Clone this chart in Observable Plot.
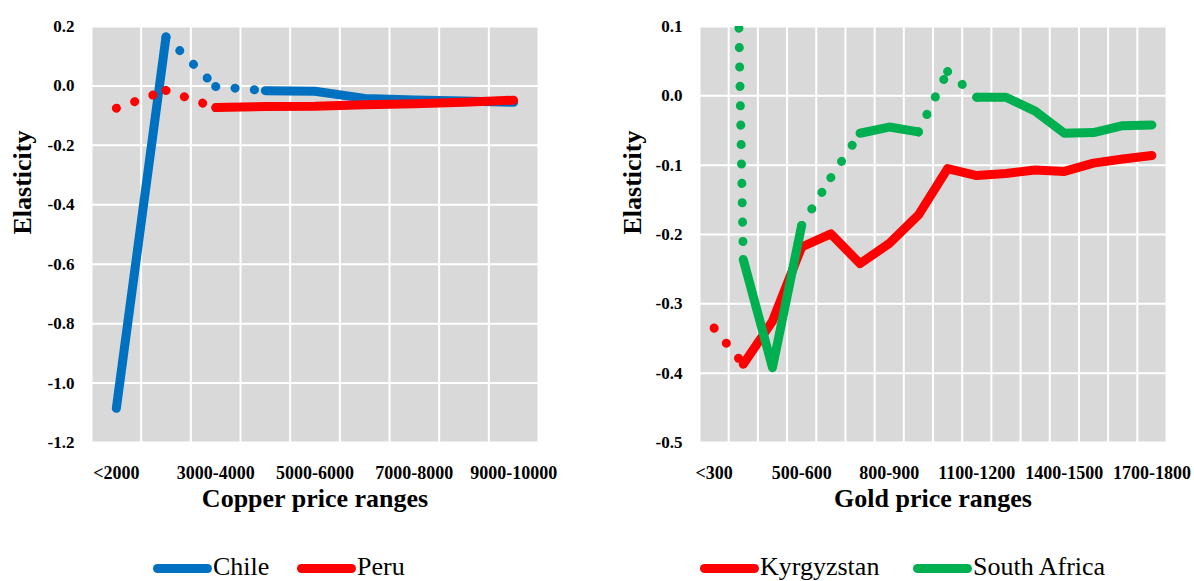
<!DOCTYPE html>
<html>
<head>
<meta charset="utf-8">
<script src="https://cdn.jsdelivr.net/npm/d3@7"></script>
<script src="https://cdn.jsdelivr.net/npm/@observablehq/plot@0.6"></script>
<style>
  body { margin: 0; background: #fff; }
  #wrap { position: relative; width: 1194px; height: 581px; overflow: hidden; background: #fff;
          font-family: "Liberation Serif", "Times New Roman", serif; }
  .chart { position: absolute; top: 0; }
  .swatch { position: absolute; top: 564px; height: 9px; width: 59px; border-radius: 4.5px; }
  .legtext { position: absolute; top: 554px; line-height: 26px; font-size: 26px; color: #000;
             font-family: "Liberation Serif", "Times New Roman", serif; white-space: nowrap; }
</style>
</head>
<body>
<div id="wrap"></div>
<script>
// ---------- Data: copper panel ----------
const copperCategories = ["<2000", "2000-3000", "3000-4000", "4000-5000", "5000-6000",
                          "6000-7000", "7000-8000", "8000-9000", "9000-10000"];
const copperTickLabels = ["<2000", "3000-4000", "5000-6000", "7000-8000", "9000-10000"];
const copperYTicks = [0.2, 0.0, -0.2, -0.4, -0.6, -0.8, -1.0, -1.2];
const chileValues = [-1.085, 0.165, -0.002, -0.016, -0.018, -0.042, -0.047, -0.051, -0.055];
const chileSegments = ["solid", "dotted", "dotted", "solid", "solid", "solid", "solid", "solid"];
const peruValues = [-0.075, -0.015, -0.073, -0.069, -0.068, -0.063, -0.060, -0.055, -0.048];
const peruSegments = ["dotted", "dotted", "solid", "solid", "solid", "solid", "solid", "solid"];

// ---------- Data: gold panel ----------
const goldCategories = ["<300", "300-400", "400-500", "500-600", "600-700", "700-800", "800-900",
                        "900-1000", "1000-1100", "1100-1200", "1200-1300", "1300-1400",
                        "1400-1500", "1500-1600", "1600-1700", "1700-1800"];
const goldTickLabels = ["<300", "500-600", "800-900", "1100-1200", "1400-1500", "1700-1800"];
const goldYTicks = [0.1, 0.0, -0.1, -0.2, -0.3, -0.4, -0.5];
const kyrgyzValues = [-0.335, -0.387, -0.325, -0.218, -0.199, -0.242, -0.213, -0.172,
                      -0.105, -0.115, -0.112, -0.107, -0.109, -0.097, -0.091, -0.086];
const kyrgyzSegments = ["dotted", "solid", "solid", "solid", "solid", "solid", "solid", "solid",
                        "solid", "solid", "solid", "solid", "solid", "solid", "solid"];
const southAfricaValues = [2.0, -0.236, -0.392, -0.187, -0.118, -0.054, -0.045, -0.052,
                           0.035, -0.002, -0.002, -0.022, -0.054, -0.053, -0.043, -0.042];
const southAfricaSegments = ["dotted", "solid", "solid", "dotted", "dotted", "solid", "solid", "dotted",
                             "dotted", "solid", "solid", "solid", "solid", "solid", "solid"];

// ---------- Styling ----------
const BLUE = "#0070C0", RED = "#FF0000", GREEN = "#00B050", PANEL = "#D9D9D9";
const LW = 9;
const DOTS = "0.1,19.3";

function buildSegments(values, styles) {
  const solid = [], dotted = [];
  let run = -1, prevSolid = false;
  styles.forEach((s, i) => {
    if (s === "solid") {
      if (!prevSolid) { run++; solid.push({x: i + 0.5, y: values[i], z: run}); }
      solid.push({x: i + 1.5, y: values[i + 1], z: run});
      prevSolid = true;
    } else {
      dotted.push({x: i + 0.5, y: values[i], z: i}, {x: i + 1.5, y: values[i + 1], z: i});
      prevSolid = false;
    }
  });
  return {solid, dotted};
}

function seriesMarks(values, styles, color) {
  const {solid, dotted} = buildSegments(values, styles);
  return [
    Plot.line(solid, {x: "x", y: "y", z: "z", stroke: color, strokeWidth: LW,
      strokeLinecap: "round", strokeLinejoin: "round", clip: true}),
    Plot.line(dotted, {x: "x", y: "y", z: "z", stroke: color, strokeWidth: LW,
      strokeLinecap: "round", strokeDasharray: DOTS, clip: true})
  ];
}

function panel({categories, tickLabels, yTicks, yDomain, series, xTitle,
                width, marginLeft, marginRight, yTitleDx}) {
  const n = categories.length;
  const tickPos = tickLabels.map(l => categories.indexOf(l) + 0.5);
  return Plot.plot({
    width, height: 535,
    marginLeft, marginRight, marginTop: 26, marginBottom: 93,
    style: {fontFamily: "'Liberation Serif', 'Times New Roman', serif", fontWeight: "bold",
            fontSize: "17px", color: "#000", background: "transparent", overflow: "visible"},
    x: {type: "linear", domain: [0, n]},
    y: {domain: yDomain},
    marks: [
      Plot.frame({fill: PANEL, stroke: null}),
      Plot.gridX(d3.range(0, n + 1), {stroke: "#fff", strokeOpacity: 1, strokeWidth: 2}),
      Plot.gridY(yTicks, {stroke: "#fff", strokeOpacity: 1, strokeWidth: 2}),
      Plot.axisY({ticks: yTicks, tickSize: 0, tickPadding: 17, label: null,
        tickFormat: d => d.toFixed(1), fontSize: 17}),
      Plot.axisX({ticks: tickPos, tickSize: 0, tickPadding: 24, label: null,
        tickFormat: v => categories[Math.round(v - 0.5)], fontSize: 18}),
      ...series.flatMap(s => seriesMarks(s.values, s.styles, s.color)),
      Plot.text([xTitle], {text: d => d, frameAnchor: "bottom", dy: 56, fontSize: 26,
        fontWeight: "bold", lineAnchor: "middle"}),
      Plot.text(["Elasticity"], {text: d => d, frameAnchor: "left", dx: yTitleDx, rotate: -90,
        fontSize: 26, fontWeight: "bold", lineAnchor: "middle"})
    ]
  });
}

const wrap = document.getElementById("wrap");

const left = panel({
  categories: copperCategories, tickLabels: copperTickLabels, yTicks: copperYTicks,
  yDomain: [-1.2, 0.2], xTitle: "Copper price ranges",
  width: 597, marginLeft: 91, marginRight: 59, yTitleDx: -69,
  series: [
    {values: chileValues, styles: chileSegments, color: BLUE},
    {values: peruValues, styles: peruSegments, color: RED}
  ]
});
left.classList.add("chart");
left.style.left = "0px";
wrap.appendChild(left);

const right = panel({
  categories: goldCategories, tickLabels: goldTickLabels, yTicks: goldYTicks,
  yDomain: [-0.5, 0.1], xTitle: "Gold price ranges",
  width: 597, marginLeft: 102, marginRight: 28, yTitleDx: -67,
  series: [
    {values: kyrgyzValues, styles: kyrgyzSegments, color: RED},
    {values: southAfricaValues, styles: southAfricaSegments, color: GREEN}
  ]
});
right.classList.add("chart");
right.style.left = "597px";
wrap.appendChild(right);

// ---------- Legends (below the plots) ----------
const legendItems = [
  {name: "Chile", color: BLUE, x: 153},
  {name: "Peru", color: RED, x: 297},
  {name: "Kyrgyzstan", color: RED, x: 700},
  {name: "South Africa", color: GREEN, x: 913}
];
legendItems.forEach(it => {
  const sw = document.createElement("div");
  sw.className = "swatch";
  sw.style.left = it.x + "px";
  sw.style.background = it.color;
  wrap.appendChild(sw);
  const t = document.createElement("div");
  t.className = "legtext";
  t.style.left = (it.x + 60) + "px";
  t.textContent = it.name;
  wrap.appendChild(t);
});
</script>
</body>
</html>
